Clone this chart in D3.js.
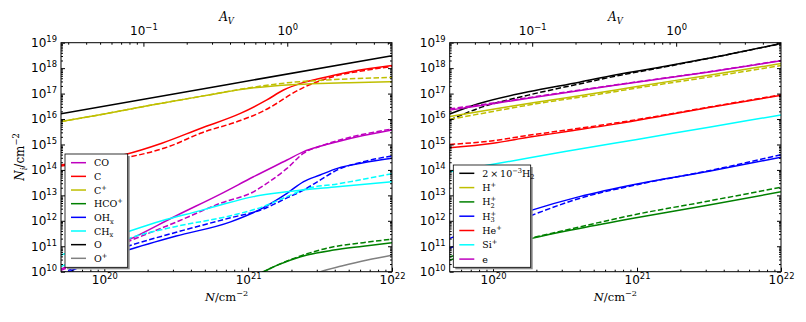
<!DOCTYPE html>
<meta charset="utf-8">
<style>
  body { margin: 0; background: #fff; }
  .serif { font-family: "DejaVu Serif", serif; }
</style>
<body>
<script src="https://d3js.org/d3.v7.min.js"></script>
<script>
// column density range and A_V conversion
var nDomain = [5e19, 1e22];
var niDomain = [1e10, 1e19];
var nPerAv = 1.87e21;

// curves as [log10 N, log10 N_i]
// ---- left panel
var coSolid = [[19.699,10.1],[19.9,10.6],[20.164,11.24],[20.5,12.2],[20.807,13.05],[21.037,13.73],[21.27,14.39],[21.386,14.72],[21.5,14.93],[21.62,15.11],[21.8,15.35],[22.0,15.57]];
var coDash  = [[19.699,10.05],[19.9,10.55],[20.164,11.18],[20.5,11.95],[20.807,12.69],[21.037,13.14],[21.15,13.55],[21.27,14.06],[21.386,14.66],[21.5,14.93],[21.62,15.15],[21.8,15.4],[22.0,15.61]];
var cSolid  = [[19.699,14.19],[19.9,14.38],[20.145,14.61],[20.4,15.05],[20.668,15.63],[20.946,16.22],[21.13,16.75],[21.246,17.14],[21.365,17.40],[21.481,17.57],[21.713,17.86],[22.0,18.10]];
var cDash   = [[19.699,14.15],[19.9,14.33],[20.18,14.52],[20.45,14.92],[20.668,15.44],[20.95,15.95],[21.1,16.3],[21.2,16.62],[21.3,16.98],[21.4,17.28],[21.5,17.5],[21.6,17.68],[21.8,17.9],[22.0,18.06]];
var cpSolid = [[19.699,15.9],[20.0,16.2],[20.3,16.52],[20.7,16.92],[21.0,17.2],[21.176,17.3],[21.3,17.35],[21.5,17.4],[21.7,17.43],[22.0,17.47]];
var cpDash  = [[19.699,15.9],[20.0,16.2],[20.3,16.52],[20.7,16.92],[21.0,17.22],[21.176,17.36],[21.3,17.44],[21.5,17.52],[21.7,17.58],[22.0,17.64]];
var hcoSolid = [[21.05,9.85],[21.107,10.0],[21.2,10.25],[21.365,10.59],[21.594,10.85],[21.8,11.0],[22.0,11.14]];
var hcoDash  = [[21.05,9.85],[21.107,10.0],[21.2,10.25],[21.365,10.62],[21.594,10.98],[21.8,11.14],[22.0,11.28]];
var ohSolid = [[19.699,9.85],[19.9,10.35],[20.164,10.85],[20.5,11.4],[20.878,11.96],[21.1,12.5],[21.27,13.08],[21.386,13.54],[21.5,13.8],[21.62,14.06],[21.8,14.28],[22.0,14.46]];
var ohDash  = [[19.699,9.9],[19.9,10.45],[20.164,11.0],[20.5,11.55],[20.878,12.12],[21.1,12.45],[21.27,12.9],[21.386,13.21],[21.5,13.6],[21.62,14.0],[21.8,14.32],[22.0,14.55]];
var chSolid = [[19.699,10.65],[19.9,11.05],[20.164,11.57],[20.4,12.0],[20.668,12.4],[20.807,12.62],[21.037,12.95],[21.27,13.14],[21.62,13.34],[22.0,13.54]];
var chDash  = [[19.699,10.2],[19.9,10.7],[20.164,11.3],[20.5,11.78],[20.878,12.2],[21.1,12.55],[21.27,12.95],[21.4,13.25],[21.62,13.45],[22.0,13.85]];
var oSolid  = [[19.699,16.21],[20.85,17.35],[22.0,18.49]];
var opSolid = [[21.45,9.88],[21.504,10.0],[21.65,10.22],[21.829,10.46],[22.0,10.65]];
// ---- right panel
var h2Solid = [[19.699,16.2],[19.898,16.6],[20.245,17.07],[20.6,17.45],[20.847,17.73],[21.206,18.08],[21.6,18.5],[22.0,18.97]];
var h2Dash  = [[19.699,15.96],[19.898,16.42],[20.245,16.94],[20.6,17.38],[20.847,17.68],[21.206,18.06],[21.6,18.5],[22.0,18.96]];
var hpSolid = [[19.699,16.1],[20.0,16.38],[20.3,16.66],[20.7,17.0],[21.0,17.28],[21.5,17.72],[22.0,18.18]];
var hpDash  = [[19.699,15.98],[20.0,16.3],[20.3,16.6],[20.7,16.94],[21.0,17.22],[21.5,17.65],[22.0,18.1]];
var h2pSolid = [[19.699,10.46],[20.0,10.9],[20.27,11.31],[20.6,11.7],[20.974,12.1],[21.5,12.62],[22.0,13.14]];
var h2pDash  = [[19.699,10.59],[20.0,10.98],[20.27,11.33],[20.6,11.76],[20.974,12.23],[21.5,12.78],[22.0,13.32]];
var h3pSolid = [[19.699,11.31],[19.9,11.72],[20.1,12.1],[20.27,12.42],[20.6,12.95],[21.0,13.45],[21.5,13.95],[22.0,14.5]];
var h3pDash  = [[19.699,10.92],[19.9,11.4],[20.1,11.85],[20.27,12.22],[20.6,12.88],[21.0,13.42],[21.5,13.97],[22.0,14.6]];
var hepSolid = [[19.699,14.87],[20.0,15.05],[20.245,15.28],[20.5,15.5],[20.847,15.8],[21.2,16.15],[21.5,16.45],[22.0,16.93]];
var hepDash  = [[19.699,15.0],[20.0,15.15],[20.245,15.36],[20.5,15.56],[20.847,15.84],[21.2,16.17],[21.5,16.47],[22.0,16.95]];
var sipSolid = [[19.699,13.93],[20.0,14.22],[20.5,14.72],[21.0,15.2],[21.5,15.68],[22.0,16.16]];
var eSolid  = [[19.699,16.35],[20.0,16.6],[20.245,16.82],[20.847,17.33],[21.5,17.85],[22.0,18.29]];
var eDash   = [[19.699,16.4],[20.0,16.63],[20.245,16.84],[20.847,17.34],[21.5,17.86],[22.0,18.3]];

var leftSeries = [
  {label: [{t:"CO"}], color: "#bf00bf", solid: coSolid, dashed: coDash},
  {label: [{t:"C"}], color: "#ff0000", solid: cSolid, dashed: cDash},
  {label: [{t:"C"},{t:"+",k:"sup"}], color: "#bfbf00", solid: cpSolid, dashed: cpDash},
  {label: [{t:"HCO"},{t:"+",k:"sup"}], color: "#008000", solid: hcoSolid, dashed: hcoDash},
  {label: [{t:"OH"},{t:"x",k:"sub"}], color: "#0000ff", solid: ohSolid, dashed: ohDash},
  {label: [{t:"CH"},{t:"x",k:"sub"}], color: "#00ffff", solid: chSolid, dashed: chDash},
  {label: [{t:"O"}], color: "#000000", solid: oSolid},
  {label: [{t:"O"},{t:"+",k:"sup"}], color: "#808080", solid: opSolid}
];
var rightSeries = [
  {label: [{t:"2\u2009×\u200910"},{t:"−3",k:"sup"},{t:"H"},{t:"2",k:"sub"}], color: "#000000", solid: h2Solid, dashed: h2Dash},
  {label: [{t:"H"},{t:"+",k:"sup"}], color: "#bfbf00", solid: hpSolid, dashed: hpDash},
  {label: [{t:"H"},{t:"2",k:"sub"},{t:"+",k:"sup",dx:-4.3}], color: "#008000", solid: h2pSolid, dashed: h2pDash},
  {label: [{t:"H"},{t:"3",k:"sub"},{t:"+",k:"sup",dx:-4.3}], color: "#0000ff", solid: h3pSolid, dashed: h3pDash},
  {label: [{t:"He"},{t:"+",k:"sup"}], color: "#ff0000", solid: hepSolid, dashed: hepDash},
  {label: [{t:"Si"},{t:"+",k:"sup"}], color: "#00ffff", solid: sipSolid},
  {label: [{t:"e"}], color: "#bf00bf", solid: eSolid, dashed: eDash}
];

var svg = d3.select("body").append("svg")
    .attr("width", 806)
    .attr("height", 322);

// text with sub/superscripts; base = starting baseline shift in px
function rich(text, parts, fs, base) {
  var cur = -(base || 0);
  parts.forEach(function(p) {
    var target = 0, size = fs;
    if (p.k === "sup") { target = -0.42 * fs; size = 0.7 * fs; }
    if (p.k === "sub") { target = 0.28 * fs; size = 0.7 * fs; }
    var ts = text.append("tspan").text(p.t)
        .attr("dy", target - cur)
        .style("font-size", size + "px");
    if (p.dx) ts.attr("dx", p.dx);
    if (p.it) ts.style("font-style", "italic");
    cur = target;
  });
}

function decades(lo, hi) {
  var out = [];
  for (var e = lo; e <= hi; e++) out.push(Math.pow(10, e));
  return out;
}
function minors(lo, hi, dmin, dmax) {
  var out = [];
  for (var e = lo; e <= hi; e++)
    for (var m = 2; m <= 9; m++) {
      var v = m * Math.pow(10, e);
      if (v > dmin * 1.0001 && v < dmax * 0.9999) out.push(v);
    }
  return out;
}
function expLabel(sel) {
  sel.selectAll(".tick text").each(function(d) {
    var t = d3.select(this);
    var em = parseFloat(t.attr("dy")) || 0;
    t.attr("dy", null);
    var e = Math.round(Math.log10(d));
    rich(t, [{t:"10"},{t:(e < 0 ? "−" + (-e) : String(e)),k:"sup"}], 12, em * 12);
  });
}

function panel(x0, x1, series, legend, yLabels) {
  var y0 = 42.7, y1 = 271.7;
  var x = d3.scaleLog().domain(nDomain).range([x0, x1]);
  var y = d3.scaleLog().domain(niDomain).range([y1, y0]);
  var av = d3.scaleLog().domain([nDomain[0] / nPerAv, nDomain[1] / nPerAv]).range([x0, x1]);
  var g = svg.append("g");

  var clipId = "clip" + Math.round(x0);
  g.append("clipPath").attr("id", clipId).append("rect")
      .attr("x", x0).attr("y", y0).attr("width", x1 - x0).attr("height", y1 - y0);

  var line = d3.line()
      .x(function(d) { return x(Math.pow(10, d[0])); })
      .y(function(d) { return y(Math.pow(10, d[1])); })
      .curve(d3.curveMonotoneX);

  var plot = g.append("g").attr("clip-path", "url(#" + clipId + ")");
  series.forEach(function(s) {
    plot.append("path").attr("d", line(s.solid))
        .attr("fill", "none").attr("stroke", s.color).attr("stroke-width", 1.5);
    if (s.dashed)
      plot.append("path").attr("d", line(s.dashed))
          .attr("fill", "none").attr("stroke", s.color).attr("stroke-width", 1.5)
          .attr("stroke-dasharray", "5.5,2.4");
  });

  function fix(a) {
    a.select(".domain").remove();
    a.attr("font-family", "DejaVu Sans, sans-serif").attr("font-size", 12);
  }

  // bottom axis
  var gb = g.append("g").attr("transform", "translate(0," + y1 + ")");
  gb.call(d3.axisBottom(x).tickValues(decades(20, 22)).tickSize(-4).tickPadding(3.5).tickFormat(""));
  gb.call(expLabel); fix(gb);
  var gbm = g.append("g").attr("transform", "translate(0," + y1 + ")");
  gbm.call(d3.axisBottom(x).tickValues(minors(19, 21, nDomain[0], nDomain[1])).tickSize(-2).tickFormat(""));
  fix(gbm);

  // top axis, A_V
  var gt = g.append("g").attr("transform", "translate(0," + y0 + ")");
  gt.call(d3.axisTop(av).tickValues([0.1, 1]).tickSize(-4).tickPadding(7.5).tickFormat(""));
  gt.call(expLabel); fix(gt);
  var gtm = g.append("g").attr("transform", "translate(0," + y0 + ")");
  gtm.call(d3.axisTop(av).tickValues(minors(-2, 0, av.domain()[0], av.domain()[1])).tickSize(-2).tickFormat(""));
  fix(gtm);

  // left and right axes
  var gl = g.append("g").attr("transform", "translate(" + x0 + ",0)");
  gl.call(d3.axisLeft(y).tickValues(decades(10, 19)).tickSize(-4).tickPadding(4).tickFormat(""));
  if (yLabels) gl.call(expLabel);
  fix(gl);
  var glm = g.append("g").attr("transform", "translate(" + x0 + ",0)");
  glm.call(d3.axisLeft(y).tickValues(minors(10, 18, niDomain[0], niDomain[1])).tickSize(-2).tickFormat(""));
  fix(glm);
  var gr = g.append("g").attr("transform", "translate(" + x1 + ",0)");
  gr.call(d3.axisRight(y).tickValues(decades(10, 19)).tickSize(-4).tickFormat(""));
  fix(gr);
  var grm = g.append("g").attr("transform", "translate(" + x1 + ",0)");
  grm.call(d3.axisRight(y).tickValues(minors(10, 18, niDomain[0], niDomain[1])).tickSize(-2).tickFormat(""));
  fix(grm);

  g.append("rect").attr("x", x0).attr("y", y0).attr("width", x1 - x0).attr("height", y1 - y0)
      .attr("fill", "none").attr("stroke", "#000").attr("stroke-width", 1);

  // axis titles
  var cx = (x0 + x1) / 2;
  var tb = g.append("text").attr("class", "serif").attr("x", cx).attr("y", 301)
      .attr("text-anchor", "middle").style("font-size", "11.5px");
  rich(tb, [{t:"N",it:true},{t:"/cm"},{t:"−2",k:"sup"}], 11.5);
  var tt = g.append("text").attr("class", "serif").attr("x", cx).attr("y", 21)
      .attr("text-anchor", "middle").style("font-size", "12px");
  rich(tt, [{t:"A",it:true},{t:"V",k:"sub",it:true}], 12);

  // legend
  var lg = g.append("g").attr("transform", "translate(" + legend.x + "," + legend.y + ")");
  lg.append("rect").attr("x", 2).attr("y", 2).attr("width", legend.w).attr("height", legend.h)
      .attr("fill", "#8c8c8c");
  lg.append("rect").attr("width", legend.w).attr("height", legend.h)
      .attr("fill", "#fff").attr("stroke", "#000").attr("stroke-width", 0.8);
  series.forEach(function(s, i) {
    var yy = legend.first + i * legend.step;
    lg.append("line").attr("x1", 6).attr("x2", 21).attr("y1", yy).attr("y2", yy)
        .attr("stroke", s.color).attr("stroke-width", 1.5);
    var t = lg.append("text").attr("class", "serif").attr("x", 29).attr("y", yy + 3.5)
        .style("font-size", "9.5px");
    rich(t, s.label, 9.5);
  });
  return g;
}

panel(61, 392, leftSeries, {x: 65, y: 154, w: 62.7, h: 113.3, first: 8.7, step: 13.66}, true);
panel(449.7, 781, rightSeries, {x: 453.3, y: 165, w: 77.4, h: 102.3, first: 8.3, step: 14.3}, true);

// y axis title
var ty = svg.append("text").attr("class", "serif")
    .attr("transform", "translate(24,157) rotate(-90)")
    .attr("text-anchor", "middle").style("font-size", "12px");
rich(ty, [{t:"N",it:true},{t:"i",k:"sub",it:true},{t:"/cm"},{t:"−2",k:"sup"}], 12);
</script>
</body>
